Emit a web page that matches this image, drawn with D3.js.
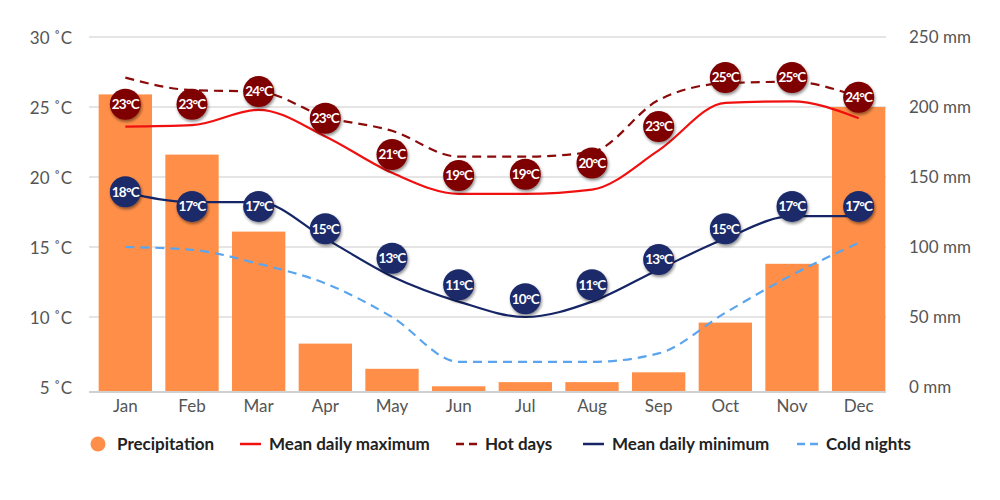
<!DOCTYPE html>
<html>
<head>
<meta charset="utf-8">
<script src="https://cdn.jsdelivr.net/npm/d3@7"></script>
<style>
  body { margin: 0; background: #fff; }
  svg text { font-family: Lato, "Open Sans", sans-serif; }
  .tick-label { fill: #555; font-size: 17px; }
  .legend-label { fill: #222; font-size: 17px; font-weight: bold; }
  .badge-label { fill: #fff; font-size: 13.5px; font-weight: bold; letter-spacing: -0.8px; }
</style>
</head>
<body>
<div id="chart"></div>
<script>
// data
var months = ["Jan","Feb","Mar","Apr","May","Jun","Jul","Aug","Sep","Oct","Nov","Dec"];
var precipitation = [209, 166, 111, 31, 13, 0.5, 3.5, 3.5, 10.5, 46, 88, 200]; // mm
var meanMax  = [23.6, 23.7, 24.8, 22.9, 20.3, 18.8, 18.8, 19.1, 21.9, 25.3, 25.4, 24.2];
var hotDays  = [27.1, 26.2, 26.1, 24.3, 23.3, 21.45, 21.45, 21.8, 25.5, 26.7, 26.8, 25.7];
var meanMin  = [18.9, 18.2, 18.2, 15.6, 12.9, 11.1, 10.0, 11.1, 13.4, 15.6, 17.2, 17.2];
var coldNights = [15.0, 14.8, 13.8, 12.4, 10.0, 6.8, 6.8, 6.8, 7.4, 10.3, 13.0, 15.3];

// badges: text shown and the temperature height they sit at
var hotBadgeText = [23, 23, 24, 23, 21, 19, 19, 20, 23, 25, 25, 24];
var hotBadgeAt   = [25.2, 25.2, 26.1, 24.2, 21.6, 20.1, 20.2, 21.0, 23.6, 27.1, 27.1, 25.7];
var minBadgeText = [18, 17, 17, 15, 13, 11, 10, 11, 13, 15, 17, 17];
var minBadgeAt   = [18.95, 17.9, 17.9, 16.3, 14.2, 12.3, 11.3, 12.3, 14.1, 16.3, 17.9, 17.9];

var tempTicks = [5, 10, 15, 20, 25, 30];
var rainTicks = [0, 50, 100, 150, 200, 250];

var legendItems = [
  {label: "Precipitation", kind: "dot", color: "#ff8f48", x: 98},
  {label: "Mean daily maximum", kind: "line", color: "#f01010", x: 240},
  {label: "Hot days", kind: "dash", color: "#8b0a0a", x: 456},
  {label: "Mean daily minimum", kind: "line", color: "#152565", x: 583},
  {label: "Cold nights", kind: "dash", color: "#5aa5ee", x: 797}
];

/*
 * layout
 */
var width = 1000, height = 500;
var plot = {left: 89, right: 886, top: 37, bottom: 387, base: 392};

var svg = d3.select("#chart").append("svg")
  .attr("width", width)
  .attr("height", height);

var defs = svg.append("defs");
defs.append("filter").attr("id", "shadow")
  .attr("x", "-50%").attr("y", "-50%").attr("width", "200%").attr("height", "200%")
  .append("feDropShadow")
    .attr("dx", 1).attr("dy", 2)
    .attr("stdDeviation", 1.6)
    .attr("flood-color", "#000")
    .attr("flood-opacity", 0.45);

var x = d3.scaleBand().domain(months).range([92, 892]).paddingInner(0.2).paddingOuter(0.1);
var xc = function(m) { return x(m) + x.bandwidth() / 2; };
var y = d3.scaleLinear().domain([5, 30]).range([plot.bottom, plot.top]);
var yR = d3.scaleLinear().domain([0, 250]).range([plot.bottom, plot.top]);

// grid lines
svg.append("g").selectAll("line")
  .data(tempTicks.slice(1))
  .enter().append("line")
    .attr("x1", plot.left).attr("x2", plot.right)
    .attr("y1", function(d) { return y(d); })
    .attr("y2", function(d) { return y(d); })
    .attr("stroke", "#dcdcdc")
    .attr("stroke-width", 1.5);

// left axis (temperature)
var leftAxis = d3.axisLeft(y).tickValues(tempTicks).tickSize(0).tickPadding(0)
  .tickFormat(function(d) { return d + " \u02DAC"; });
var gl = svg.append("g").attr("transform", "translate(72,0)").call(leftAxis);
gl.select(".domain").remove();
gl.selectAll("text").attr("class", "tick-label").attr("dy", "0.4em").attr("font-size", null).attr("fill", null);

// right axis (precipitation)
var rightAxis = d3.axisRight(yR).tickValues(rainTicks).tickSize(0).tickPadding(0)
  .tickFormat(function(d) { return d + " mm"; });
var gr = svg.append("g").attr("transform", "translate(909,0)").call(rightAxis);
gr.select(".domain").remove();
gr.selectAll("text").attr("class", "tick-label").attr("dy", "0.3em").attr("font-size", null).attr("fill", null);

// bars
svg.append("g").selectAll("rect")
  .data(precipitation)
  .enter().append("rect")
    .attr("x", function(d, i) { return x(months[i]); })
    .attr("width", x.bandwidth())
    .attr("y", function(d) { return yR(d); })
    .attr("height", function(d) { return plot.base - yR(d); })
    .attr("fill", "#ff8f48");

// base line
svg.append("line")
  .attr("x1", plot.left).attr("x2", plot.right)
  .attr("y1", plot.base).attr("y2", plot.base)
  .attr("stroke", "#d0d0d0").attr("stroke-width", 2);

// bottom axis (months)
var bottomAxis = d3.axisBottom(x).tickSize(0).tickPadding(0);
var gb = svg.append("g").attr("transform", "translate(0," + 400 + ")").call(bottomAxis);
gb.select(".domain").remove();
gb.selectAll("text").attr("class", "tick-label").attr("dy", "0.71em").attr("font-size", null).attr("fill", null);

// temperature lines
var drawLine = function(values, color, dash) {
  var line = d3.line()
    .x(function(d, i) { return xc(months[i]); })
    .y(function(d) { return y(d); })
    .curve(d3.curveMonotoneX);
  svg.append("path")
    .datum(values)
    .attr("d", line)
    .attr("fill", "none")
    .attr("stroke", color)
    .attr("stroke-width", 2.2)
    .attr("stroke-dasharray", dash ? "9,6" : null);
};
drawLine(coldNights, "#5aa5ee", true);
drawLine(meanMin, "#152565", false);
drawLine(meanMax, "#f01010", false);
drawLine(hotDays, "#8b0a0a", true);

// round value badges
var drawBadges = function(at, text, color) {
  var g = svg.append("g").selectAll("g")
    .data(at)
    .enter().append("g")
      .attr("transform", function(d, i) { return "translate(" + xc(months[i]) + "," + y(d) + ")"; });
  g.append("circle")
    .attr("r", 15.5)
    .attr("fill", color)
    .attr("filter", "url(#shadow)");
  g.append("text")
    .attr("class", "badge-label")
    .attr("text-anchor", "middle")
    .attr("dy", "0.36em")
    .text(function(d, i) { return text[i] + "\u00B0C"; });
};
drawBadges(hotBadgeAt, hotBadgeText, "#7f0000");
drawBadges(minBadgeAt, minBadgeText, "#1b2a6b");

// legend
var legend = svg.append("g").attr("transform", "translate(0,444)");
legendItems.forEach(function(item) {
  if (item.kind === "dot") {
    legend.append("circle").attr("cx", item.x).attr("cy", 0).attr("r", 7.5).attr("fill", item.color);
  } else {
    legend.append("line")
      .attr("x1", item.x).attr("x2", item.x + 21)
      .attr("y1", 0).attr("y2", 0)
      .attr("stroke", item.color).attr("stroke-width", 2.5)
      .attr("stroke-dasharray", item.kind === "dash" ? "8,5" : null);
  }
  legend.append("text")
    .attr("class", "legend-label")
    .attr("x", item.kind === "dot" ? item.x + 19 : item.x + 29)
    .attr("dy", "0.35em")
    .text(item.label);
});
</script>
</body>
</html>
